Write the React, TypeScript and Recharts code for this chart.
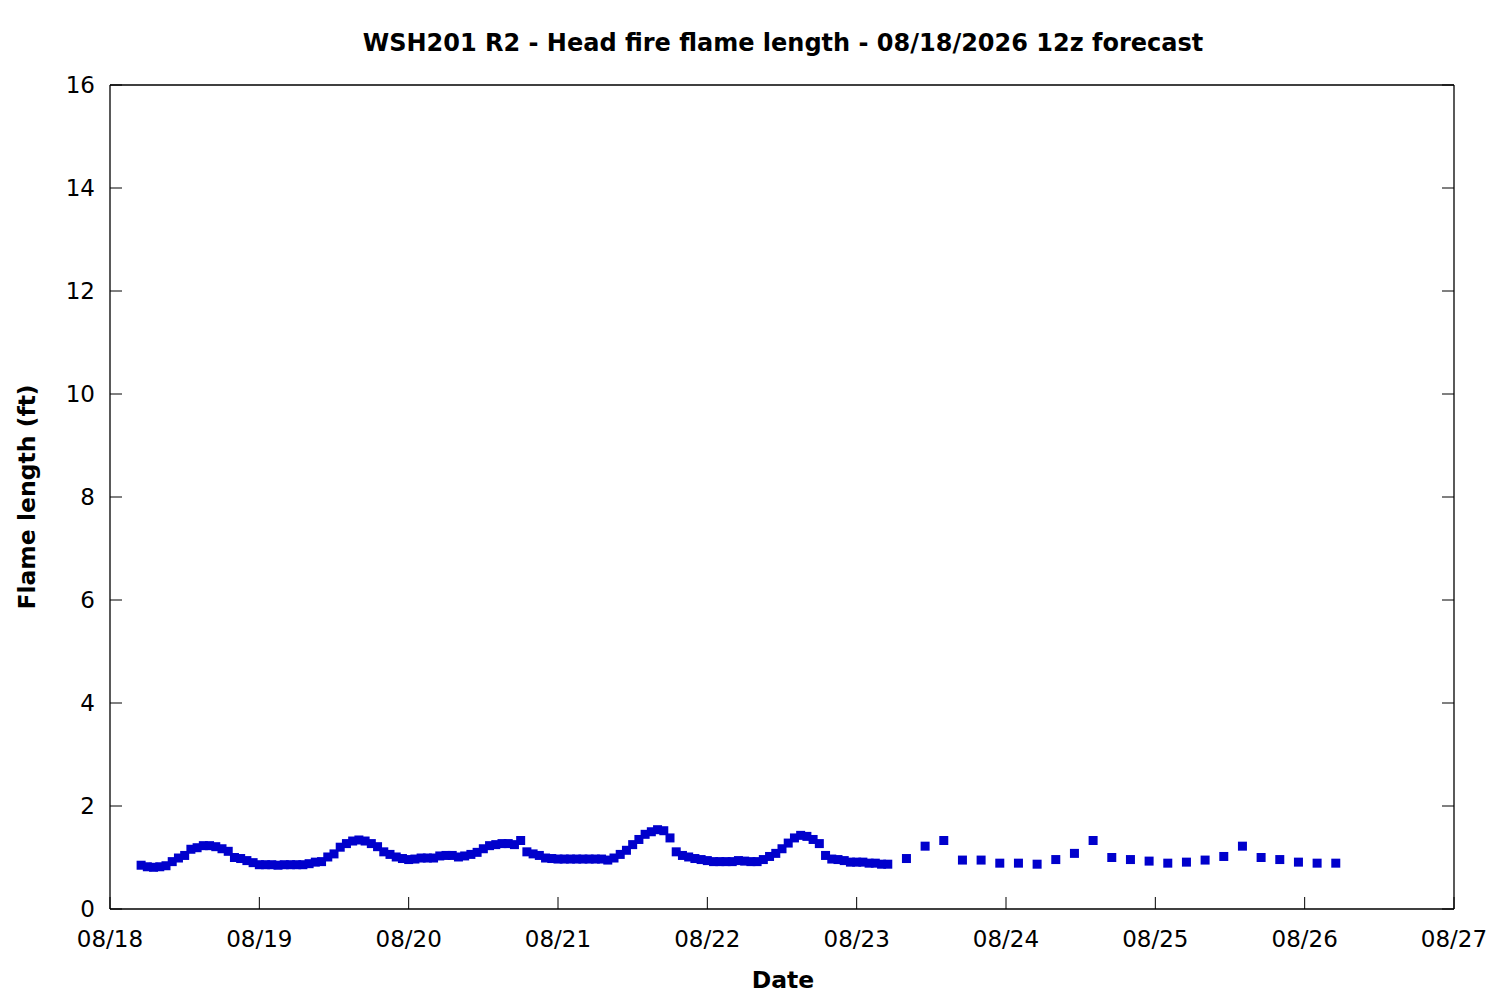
import React from "react";
import { Scatter, ScatterChart, XAxis, YAxis } from "recharts";

// hours since 08/18 00z
const hourlyStart = 5;
const hourlyFlame = [
  0.85, 0.82, 0.81, 0.82, 0.84, 0.92, 0.99, 1.04, 1.16, 1.19, 1.23, 1.23,
  1.21, 1.17, 1.12, 1.0, 0.98, 0.94, 0.9, 0.86, 0.86, 0.86, 0.85, 0.86,
  0.86, 0.86, 0.86, 0.88, 0.91, 0.92, 1.01, 1.07, 1.2, 1.27, 1.32, 1.34,
  1.32, 1.27, 1.21, 1.11, 1.06, 1.01, 0.98, 0.96, 0.97, 0.99, 0.99, 0.99,
  1.03, 1.04, 1.04, 1.01, 1.03, 1.06, 1.1, 1.17, 1.23, 1.25, 1.27, 1.27,
  1.25, 1.33, 1.11, 1.07, 1.04, 0.99, 0.98, 0.97, 0.97, 0.97, 0.97, 0.97,
  0.97, 0.97, 0.97, 0.95, 0.99, 1.06, 1.14, 1.25, 1.35, 1.45, 1.5, 1.54,
  1.52, 1.38, 1.11, 1.04, 1.01, 0.98, 0.96, 0.94, 0.92, 0.92, 0.92, 0.92,
  0.94, 0.93, 0.92, 0.92, 0.96, 1.02, 1.08, 1.17, 1.28, 1.38, 1.43, 1.41,
  1.35, 1.27, 1.04, 0.97, 0.96, 0.94, 0.91, 0.91, 0.91, 0.89, 0.89, 0.87,
  0.87,
];

const threeHourStart = 128;
const threeHourFlame = [
  0.98, 1.22, 1.33, 0.95, 0.95, 0.89, 0.89, 0.87, 0.96, 1.08, 1.33, 1.0,
  0.96, 0.93, 0.89, 0.91, 0.95, 1.02, 1.22, 1.0, 0.96, 0.91, 0.89, 0.89,
];

const xTicks = [0, 24, 48, 72, 96, 120, 144, 168, 192, 216];
const dateLabels = [
  "08/18", "08/19", "08/20", "08/21", "08/22",
  "08/23", "08/24", "08/25", "08/26", "08/27",
];
const yTicks = [0, 2, 4, 6, 8, 10, 12, 14, 16];

const points = [
  ...hourlyFlame.map((v, i) => ({ hour: hourlyStart + i, flame: v })),
  ...threeHourFlame.map((v, i) => ({ hour: threeHourStart + 3 * i, flame: v })),
];

const FONT = "'DejaVu Sans', sans-serif";
const TICK_LEN = 12;

const LeftTick = (props: any) => {
  const { x, y, payload } = props;
  return (
    <g>
      <line x1={x} x2={x + TICK_LEN} y1={y} y2={y} stroke="#000" />
      <text x={x - 15} y={y} textAnchor="end" dominantBaseline="central"
        fontFamily={FONT} fontSize={23} fill="#000">
        {payload.value}
      </text>
    </g>
  );
};

const RightTick = (props: any) => {
  const { x, y } = props;
  return <line x1={x - TICK_LEN} x2={x} y1={y} y2={y} stroke="#000" />;
};

const BottomTick = (props: any) => {
  const { x, y, payload, index } = props;
  return (
    <g>
      <line x1={x} x2={x} y1={y - TICK_LEN} y2={y} stroke="#000" />
      <text x={x} y={y + 38} textAnchor="middle"
        fontFamily={FONT} fontSize={23} fill="#000">
        {dateLabels[index] ?? payload.value}
      </text>
    </g>
  );
};

const TopTick = (props: any) => {
  const { x, y } = props;
  return <line x1={x} x2={x} y1={y} y2={y + TICK_LEN} stroke="#000" />;
};

const Square = (props: any) => {
  const { cx, cy } = props;
  return <rect x={cx - 4.5} y={cy - 4.5} width={9} height={9} fill="#0000cc" />;
};

export default function App() {
  return (
    <div style={{ position: "absolute", left: 0, top: 0, width: 1500, height: 1000, background: "#fff" }}>
      <ScatterChart
        width={1500}
        height={1000}
        margin={{ top: 84, right: 45, bottom: 51, left: 50 }}
      >
        <XAxis
          xAxisId="b"
          dataKey="hour"
          type="number"
          domain={[0, 216]}
          ticks={xTicks}
          allowDataOverflow
          height={40}
          tickSize={0}
          tickMargin={0}
          tickLine={false}
          axisLine={{ stroke: "#000", strokeWidth: 1.3 }}
          tick={<BottomTick />}
          interval={0}
        />
        <XAxis
          xAxisId="t"
          orientation="top"
          type="number"
          domain={[0, 216]}
          ticks={xTicks}
          allowDataOverflow
          height={1}
          tickSize={0}
          tickMargin={0}
          tickLine={false}
          axisLine={{ stroke: "#000", strokeWidth: 1.3 }}
          tick={<TopTick />}
          interval={0}
        />
        <YAxis
          yAxisId="l"
          dataKey="flame"
          type="number"
          domain={[0, 16]}
          ticks={yTicks}
          allowDataOverflow
          width={60}
          tickSize={0}
          tickMargin={0}
          tickLine={false}
          axisLine={{ stroke: "#000", strokeWidth: 1.3 }}
          tick={<LeftTick />}
          interval={0}
        />
        <YAxis
          yAxisId="r"
          orientation="right"
          type="number"
          domain={[0, 16]}
          ticks={yTicks}
          allowDataOverflow
          width={1}
          tickSize={0}
          tickMargin={0}
          tickLine={false}
          axisLine={{ stroke: "#000", strokeWidth: 1.3 }}
          tick={<RightTick />}
          interval={0}
        />
        <Scatter
          xAxisId="b"
          yAxisId="l"
          data={points}
          shape={<Square />}
          isAnimationActive={false}
        />
      </ScatterChart>
      <svg
        width={1500}
        height={1000}
        style={{ position: "absolute", left: 0, top: 0, pointerEvents: "none" }}
      >
        <text x={783} y={51} textAnchor="middle" fontFamily={FONT}
          fontWeight="bold" fontSize={24} fill="#000">
          WSH201 R2 - Head fire flame length - 08/18/2026 12z forecast
        </text>
        <text x={783} y={988} textAnchor="middle" fontFamily={FONT}
          fontWeight="bold" fontSize={23.5} fill="#000">
          Date
        </text>
        <text x={35} y={497} textAnchor="middle" fontFamily={FONT}
          fontWeight="bold" fontSize={23.5} fill="#000"
          transform="rotate(-90 35 497)">
          Flame length (ft)
        </text>
      </svg>
    </div>
  );
}
